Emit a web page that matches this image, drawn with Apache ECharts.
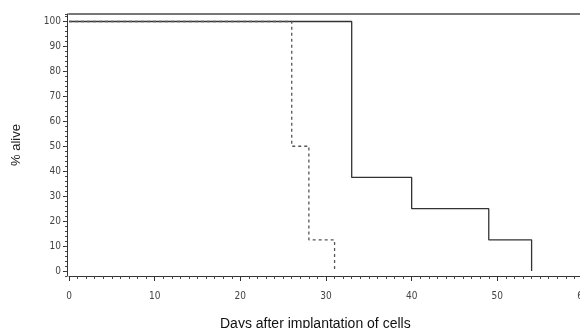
<!DOCTYPE html>
<html>
<head>
<meta charset="utf-8">
<script src="https://cdn.jsdelivr.net/npm/echarts@6/dist/echarts.min.js"></script>
<style>
  html, body { margin: 0; padding: 0; background: #fff; }
  #chart { width: 580px; height: 328px; }
</style>
</head>
<body>
<div id="chart"></div>
<script>
// Kaplan-Meier style survival curves (day, % alive)
const solidGroup = [[0, 100], [33, 37.5], [40, 25], [49, 12.5], [54, 0]];
const dashedGroup = [[0, 100], [26, 50], [28, 12.5], [31, 0]];
const yTickValues = [0, 10, 20, 30, 40, 50, 60, 70, 80, 90, 100];

const FONT = "'Liberation Sans Narrow', 'DejaVu Sans Condensed', 'Liberation Sans', sans-serif";

const chart = echarts.init(document.getElementById('chart'), null, { renderer: 'canvas' });

chart.setOption({
  backgroundColor: '#fff',
  animation: false,
  title: {
    text: 'Days after implantation of cells',
    left: 215,
    top: 312,
    textStyle: { fontFamily: "'Liberation Sans', Arial, sans-serif", fontSize: 14, fontWeight: 'normal', color: '#111' }
  },
  grid: { left: 69, right: -3, top: 14, bottom: 52, outerBoundsMode: 'none', containLabel: false },
  xAxis: [
    {
      type: 'value',
      min: 0,
      max: 60,
      interval: 10,
      axisLine: { show: true, onZero: false, lineStyle: { color: '#333', width: 1 } },
      axisTick: { show: true, length: 5, lineStyle: { color: '#333' } },
      minorTick: { show: true, splitNumber: 10, length: 3, lineStyle: { color: '#444' } },
      axisLabel: { color: '#444', fontSize: 10, fontFamily: FONT, margin: 15 },
      splitLine: { show: false },
      minorSplitLine: { show: false }
    },
    {
      type: 'value',
      position: 'top',
      min: 0,
      max: 60,
      axisLine: { show: true, onZero: false, lineStyle: { color: '#777', width: 2 } },
      axisTick: { show: false },
      axisLabel: { show: false },
      splitLine: { show: false }
    }
  ],
  yAxis: [
    {
      type: 'value',
      min: -2,
      max: 103,
      offset: 2,
      name: '% alive',
      nameLocation: 'middle',
      nameGap: 44,
      nameRotate: 90,
      nameTextStyle: { fontFamily: "'Liberation Sans', Arial, sans-serif", fontSize: 13, color: '#222' },
      axisLine: { show: true, onZero: false, lineStyle: { color: '#333', width: 1 } },
      axisTick: { show: true, length: 4, customValues: yTickValues, lineStyle: { color: '#333' } },
      axisLabel: { customValues: yTickValues, color: '#444', fontSize: 10, fontFamily: FONT, margin: 6 },
      splitLine: { show: false }
    },
    {
      type: 'value',
      min: -2,
      max: 103,
      interval: 2,
      offset: 2,
      position: 'left',
      axisLine: { show: false, onZero: false },
      axisTick: { show: true, length: 2, lineStyle: { color: '#444' } },
      axisLabel: { show: false },
      splitLine: { show: false }
    }
  ],
  series: [
    {
      type: 'line',
      step: 'end',
      data: solidGroup,
      showSymbol: false,
      lineStyle: { color: '#333', width: 1.3 }
    },
    {
      type: 'line',
      step: 'end',
      data: dashedGroup,
      showSymbol: false,
      lineStyle: { color: '#555', width: 1.3, type: [3, 3] }
    }
  ]
});
</script>
</body>
</html>
